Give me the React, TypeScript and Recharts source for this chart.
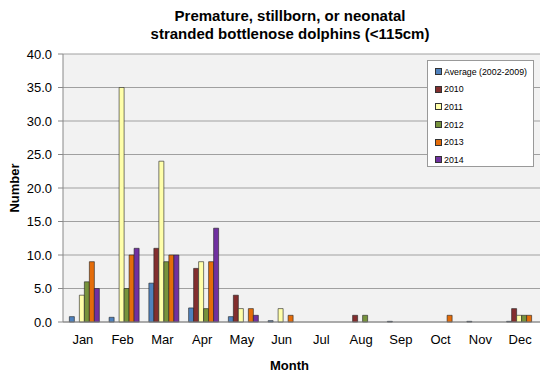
import React from 'react';
import { BarChart, Bar, XAxis, YAxis, CartesianGrid } from 'recharts';

const months = ['Jan', 'Feb', 'Mar', 'Apr', 'May', 'Jun', 'Jul', 'Aug', 'Sep', 'Oct', 'Nov', 'Dec'];
const avg0209 = [0.8, 0.7, 5.8, 2.1, 0.8, 0.2, 0, 0, 0.1, 0, 0.1, 0.1];
const y2010 = [0, 0, 11, 8, 4, 0, 0, 1, 0, 0, 0, 2];
const y2011 = [4, 35, 24, 9, 2, 2, 0, 0, 0, 0, 0, 1];
const y2012 = [6, 5, 9, 2, 0, 0, 0, 1, 0, 0, 0, 1];
const y2013 = [9, 10, 10, 9, 2, 1, 0, 0, 0, 1, 0, 1];
const y2014 = [5, 11, 10, 14, 1, 0, 0, 0, 0, 0, 0, 0];
const yTicks = [0, 5, 10, 15, 20, 25, 30, 35, 40];
const boundaryTicks = [0, 1, 2, 3, 4, 5, 6, 7, 8, 9, 10, 11, 12];

const seriesDefs = [
  { key: 'avg', name: 'Average (2002-2009)', color: '#4F81BD', values: avg0209 },
  { key: 'y2010', name: '2010', color: '#832E2E', values: y2010 },
  { key: 'y2011', name: '2011', color: '#FFFFAA', values: y2011 },
  { key: 'y2012', name: '2012', color: '#77933C', values: y2012 },
  { key: 'y2013', name: '2013', color: '#E46C0A', values: y2013 },
  { key: 'y2014', name: '2014', color: '#7030A0', values: y2014 },
];

const data = months.map((m, i) => {
  const row: Record<string, any> = { month: m };
  seriesDefs.forEach((s) => {
    row[s.key] = s.values[i];
  });
  return row;
});

const font = '"Liberation Sans", Arial, sans-serif';

export default function App() {
  return (
    <div style={{ position: 'absolute', left: 0, top: 0, width: 549, height: 375, background: '#fff', fontFamily: font }}>
      <div
        style={{
          position: 'absolute',
          left: 0,
          top: 7,
          width: 580,
          textAlign: 'center',
          fontWeight: 'bold',
          fontSize: 15,
          lineHeight: '18px',
          color: '#000',
        }}
      >
        Premature, stillborn, or neonatal
        <br />
        stranded bottlenose dolphins (&lt;115cm)
      </div>
      <BarChart
        width={549}
        height={375}
        data={data}
        margin={{ top: 54, right: 9, bottom: 0, left: 0 }}
        barCategoryGap="16%"
        barGap={0}
      >
        <CartesianGrid vertical={false} stroke="#A0A0A0" fill="#F2F2F2" strokeWidth={1} />
        <XAxis
          xAxisId="ticks"
          type="number"
          domain={[0, 12]}
          ticks={boundaryTicks}
          interval={0}
          height={0}
          tick={false}
          tickSize={4}
          tickLine={{ stroke: '#777' }}
          axisLine={false}
          allowDataOverflow
        />
        <XAxis
          xAxisId="cat"
          dataKey="month"
          height={53}
          tickLine={false}
          axisLine={{ stroke: '#888' }}
          tick={{ fill: '#000', fontSize: 13, fontFamily: font }}
          tickMargin={7}
          label={{ value: 'Month', position: 'insideBottom', offset: 5, fill: '#000', fontWeight: 'bold', fontSize: 13, fontFamily: font, dx: -12 }}
        />
        <YAxis
          width={63}
          domain={[0, 40]}
          ticks={yTicks}
          interval={0}
          tickFormatter={(v: number) => v.toFixed(1)}
          tickSize={5}
          tickMargin={6}
          tickLine={{ stroke: '#888' }}
          axisLine={{ stroke: '#888' }}
          tick={{ fill: '#000', fontSize: 13, fontFamily: font }}
          label={{ value: 'Number', angle: -90, position: 'insideLeft', offset: 14, fill: '#000', fontWeight: 'bold', fontSize: 13, fontFamily: font, style: { textAnchor: 'middle' } }}
        />
        {seriesDefs.map((s) => (
          <Bar
            key={s.key}
            xAxisId="cat"
            dataKey={s.key}
            name={s.name}
            fill={s.color}
            stroke="#222"
            strokeWidth={0.6}
            isAnimationActive={false}
          />
        ))}
      </BarChart>
      <div
        style={{
          position: 'absolute',
          left: 427,
          top: 60,
          width: 107,
          height: 107,
          boxSizing: 'border-box',
          background: '#fff',
          border: '1px solid #999',
          padding: '2px 0 0 7px',
          fontSize: 8.8,
          color: '#000',
        }}
      >
        {seriesDefs.map((s) => (
          <div key={s.key} style={{ height: 17.6, display: 'flex', alignItems: 'center', whiteSpace: 'nowrap' }}>
            <span
              style={{
                display: 'inline-block',
                width: 5,
                height: 5,
                background: s.color,
                border: '0.8px solid #333',
                marginRight: 2,
              }}
            />
            {s.name}
          </div>
        ))}
      </div>
    </div>
  );
}
